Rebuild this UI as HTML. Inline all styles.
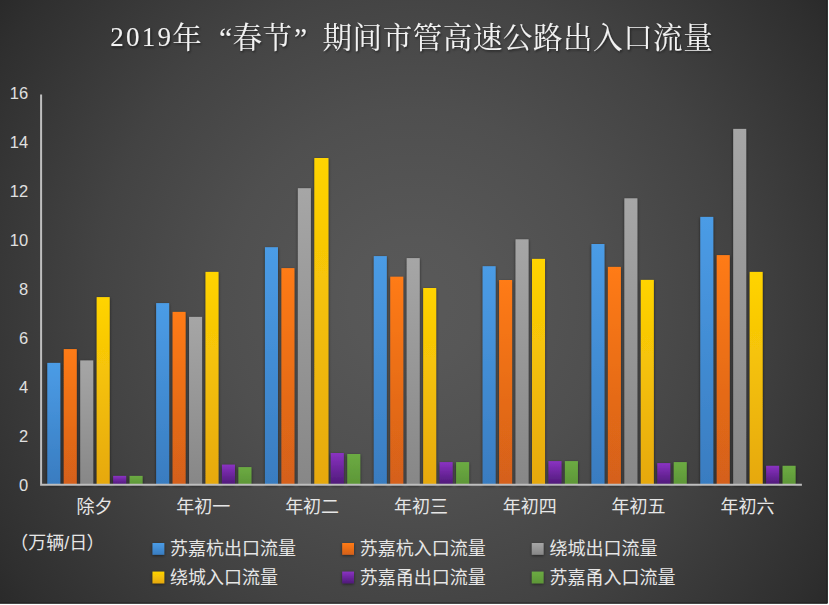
<!DOCTYPE html>
<html lang="zh"><head><meta charset="utf-8"><title>2019年春节期间市管高速公路出入口流量</title>
<style>html,body{margin:0;padding:0;background:#fff}body{width:829px;height:605px;overflow:hidden;font-family:"Liberation Sans",sans-serif}svg{display:block}</style>
</head><body>
<svg width="829" height="605" viewBox="0 0 829 605" role="img" aria-label="2019年“春节”期间市管高速公路出入口流量">
<desc>2019年“春节”期间市管高速公路出入口流量 （万辆/日） 除夕 年初一 年初二 年初三 年初四 年初五 年初六 苏嘉杭出口流量 苏嘉杭入口流量 绕城出口流量 绕城入口流量 苏嘉甬出口流量 苏嘉甬入口流量 0 2 4 6 8 10 12 14 16</desc>
<defs>
<radialGradient id="bg" gradientUnits="userSpaceOnUse" cx="414" cy="302" r="512"><stop offset="0" stop-color="#585858"/><stop offset="0.0625" stop-color="#585858"/><stop offset="0.125" stop-color="#575757"/><stop offset="0.1875" stop-color="#555555"/><stop offset="0.25" stop-color="#535353"/><stop offset="0.3125" stop-color="#515151"/><stop offset="0.375" stop-color="#4f4f4f"/><stop offset="0.4375" stop-color="#4c4c4c"/><stop offset="0.5" stop-color="#494949"/><stop offset="0.5625" stop-color="#464646"/><stop offset="0.625" stop-color="#434343"/><stop offset="0.6875" stop-color="#3f3f3f"/><stop offset="0.75" stop-color="#3b3b3b"/><stop offset="0.8125" stop-color="#373737"/><stop offset="0.875" stop-color="#333333"/><stop offset="0.9375" stop-color="#2f2f2f"/><stop offset="1" stop-color="#2a2a2a"/></radialGradient>
<linearGradient id="c0" x1="0" y1="0" x2="0" y2="1"><stop offset="0" stop-color="#4b9ce6"/><stop offset="1" stop-color="#397cc0"/></linearGradient>
<linearGradient id="c1" x1="0" y1="0" x2="0" y2="1"><stop offset="0" stop-color="#ff7b17"/><stop offset="1" stop-color="#d4601a"/></linearGradient>
<linearGradient id="c2" x1="0" y1="0" x2="0" y2="1"><stop offset="0" stop-color="#a6a6a6"/><stop offset="1" stop-color="#878787"/></linearGradient>
<linearGradient id="c3" x1="0" y1="0" x2="0" y2="1"><stop offset="0" stop-color="#ffd403"/><stop offset="1" stop-color="#e6a80e"/></linearGradient>
<linearGradient id="c4" x1="0" y1="0" x2="0" y2="1"><stop offset="0" stop-color="#8a32c2"/><stop offset="1" stop-color="#4e1a78"/></linearGradient>
<linearGradient id="c5" x1="0" y1="0" x2="0" y2="1"><stop offset="0" stop-color="#6cab43"/><stop offset="1" stop-color="#5d9637"/></linearGradient>
<filter id="sh" x="-5%" y="-5%" width="110%" height="110%"><feDropShadow dx="0" dy="1.2" stdDeviation="1.8" flood-color="#000" flood-opacity="0.6"/></filter>
<filter id="sh2" x="-50%" y="-50%" width="200%" height="200%"><feDropShadow dx="0" dy="1" stdDeviation="1.5" flood-color="#000" flood-opacity="0.5"/></filter>
<filter id="tsh" x="-5%" y="-30%" width="110%" height="160%"><feDropShadow dx="1" dy="1.5" stdDeviation="1" flood-color="#000" flood-opacity="0.5"/></filter>
</defs>
<rect x="0" y="0" width="829" height="605" fill="#fff"/>
<rect x="0" y="0" width="827.7" height="603.6" fill="url(#bg)"/>
<path d="M827.2 0V603.1H0" fill="none" stroke="#1c1c1c" stroke-width="1"/>
<g filter="url(#sh)"><rect x="47.31" y="362.9" width="13" height="121.7" fill="url(#c0)"/><rect x="63.77" y="349.1" width="13" height="135.5" fill="url(#c1)"/><rect x="80.23" y="360.4" width="13" height="124.2" fill="url(#c2)"/><rect x="96.69" y="297.1" width="13" height="187.5" fill="url(#c3)"/><rect x="113.15" y="475.9" width="13" height="8.7" fill="url(#c4)"/><rect x="129.61" y="475.9" width="13" height="8.7" fill="url(#c5)"/><rect x="156.14" y="303.1" width="13" height="181.5" fill="url(#c0)"/><rect x="172.6" y="311.9" width="13" height="172.7" fill="url(#c1)"/><rect x="189.06" y="316.9" width="13" height="167.7" fill="url(#c2)"/><rect x="205.52" y="271.9" width="13" height="212.7" fill="url(#c3)"/><rect x="221.98" y="464.6" width="13" height="20" fill="url(#c4)"/><rect x="238.44" y="467.1" width="13" height="17.5" fill="url(#c5)"/><rect x="264.97" y="247.2" width="13" height="237.4" fill="url(#c0)"/><rect x="281.43" y="268.1" width="13" height="216.5" fill="url(#c1)"/><rect x="297.89" y="188.2" width="13" height="296.4" fill="url(#c2)"/><rect x="314.35" y="158" width="14.1" height="326.6" fill="url(#c3)"/><rect x="330.81" y="453" width="13" height="31.6" fill="url(#c4)"/><rect x="347.27" y="454" width="13" height="30.6" fill="url(#c5)"/><rect x="373.8" y="256.1" width="13" height="228.5" fill="url(#c0)"/><rect x="390.26" y="276.7" width="13" height="207.9" fill="url(#c1)"/><rect x="406.72" y="258.1" width="13" height="226.5" fill="url(#c2)"/><rect x="423.18" y="288" width="13" height="196.6" fill="url(#c3)"/><rect x="439.64" y="462.1" width="13" height="22.5" fill="url(#c4)"/><rect x="456.1" y="462.1" width="13" height="22.5" fill="url(#c5)"/><rect x="482.63" y="266.2" width="13" height="218.4" fill="url(#c0)"/><rect x="499.09" y="280" width="13" height="204.6" fill="url(#c1)"/><rect x="515.55" y="239.3" width="13" height="245.3" fill="url(#c2)"/><rect x="532.01" y="258.9" width="13" height="225.7" fill="url(#c3)"/><rect x="548.47" y="461.1" width="13" height="23.5" fill="url(#c4)"/><rect x="564.93" y="461.1" width="13" height="23.5" fill="url(#c5)"/><rect x="591.46" y="244" width="13" height="240.6" fill="url(#c0)"/><rect x="607.92" y="266.9" width="13" height="217.7" fill="url(#c1)"/><rect x="624.38" y="198.3" width="13" height="286.3" fill="url(#c2)"/><rect x="640.84" y="279.9" width="13" height="204.7" fill="url(#c3)"/><rect x="657.3" y="463.1" width="13" height="21.5" fill="url(#c4)"/><rect x="673.76" y="462.1" width="13" height="22.5" fill="url(#c5)"/><rect x="700.29" y="216.9" width="13" height="267.7" fill="url(#c0)"/><rect x="716.75" y="255.1" width="13" height="229.5" fill="url(#c1)"/><rect x="733.21" y="128.9" width="13" height="355.7" fill="url(#c2)"/><rect x="749.67" y="271.9" width="13" height="212.7" fill="url(#c3)"/><rect x="766.13" y="465.8" width="13" height="18.8" fill="url(#c4)"/><rect x="782.59" y="465.8" width="13" height="18.8" fill="url(#c5)"/></g>
<path d="M41.1 94.6V484.75H801.9" fill="none" stroke="#bebebe" stroke-width="2"/>
<g fill="#e0e0e0" font-family="&quot;Liberation Sans&quot;, sans-serif" font-size="16.5" text-anchor="end"><text x="28.2" y="99.4">16</text><text x="28.2" y="148.29">14</text><text x="28.2" y="197.18">12</text><text x="28.2" y="246.06">10</text><text x="28.2" y="294.95">8</text><text x="28.2" y="343.84">6</text><text x="28.2" y="392.73">4</text><text x="28.2" y="441.61">2</text><text x="28.2" y="490.5">0</text></g>
<g fill="#e6e6e6" font-family="&quot;Liberation Sans&quot;, &quot;Noto Sans CJK SC&quot;, sans-serif" font-size="18"><text x="76.47" y="513.1">除夕</text><text x="176.31" y="513.1">年初一</text><text x="285.13" y="513.1">年初二</text><text x="393.96" y="513.1">年初三</text><text x="502.8" y="513.1">年初四</text><text x="611.62" y="513.1">年初五</text><text x="720.45" y="513.1">年初六</text></g>
<g fill="#e6e6e6" font-family="&quot;Liberation Sans&quot;, &quot;Noto Sans CJK SC&quot;, sans-serif" font-size="18"><text x="28.15" y="548.5" text-anchor="end">（</text><text x="28.15" y="548.5">万辆/日</text><text x="86.5" y="548.5">）</text></g>
<g fill="#e6e6e6" font-family="&quot;Liberation Sans&quot;, &quot;Noto Sans CJK SC&quot;, sans-serif" font-size="18">
<rect x="152.5" y="543" width="11.8" height="11.8" fill="url(#c0)" filter="url(#sh2)"/><text x="170.1" y="555.2">苏嘉杭出口流量</text><rect x="342.2" y="543" width="11.8" height="11.8" fill="url(#c1)" filter="url(#sh2)"/><text x="359.8" y="555.2">苏嘉杭入口流量</text><rect x="531.8" y="543" width="11.8" height="11.8" fill="url(#c2)" filter="url(#sh2)"/><text x="549.4" y="555.2">绕城出口流量</text><rect x="152.5" y="571.6" width="11.8" height="11.8" fill="url(#c3)" filter="url(#sh2)"/><text x="170.1" y="583.8">绕城入口流量</text><rect x="342.2" y="571.6" width="11.8" height="11.8" fill="url(#c4)" filter="url(#sh2)"/><text x="359.8" y="583.8">苏嘉甬出口流量</text><rect x="531.8" y="571.6" width="11.8" height="11.8" fill="url(#c5)" filter="url(#sh2)"/><text x="549.4" y="583.8">苏嘉甬入口流量</text>
</g>
<g filter="url(#tsh)"><text x="110.2 126 141.8 157.6" y="46.3" font-family="&quot;Liberation Serif&quot;, &quot;Noto Serif CJK SC&quot;, serif" font-size="27" fill="#f2f2f2" stroke="#484848" stroke-width="0.5" paint-order="stroke">2019</text><text x="172.3 219 232.4 262.45 294 322.55 352.6 382.65 412.7 442.75 472.8 502.85 532.9 562.95 593 623.05 653.1 683.15" y="48.3" font-family="&quot;Liberation Serif&quot;, &quot;Noto Serif CJK SC&quot;, serif" font-size="29.5" fill="#f2f2f2">年“春节”期间市管高速公路出入口流量</text></g>
</svg>
</body></html>
